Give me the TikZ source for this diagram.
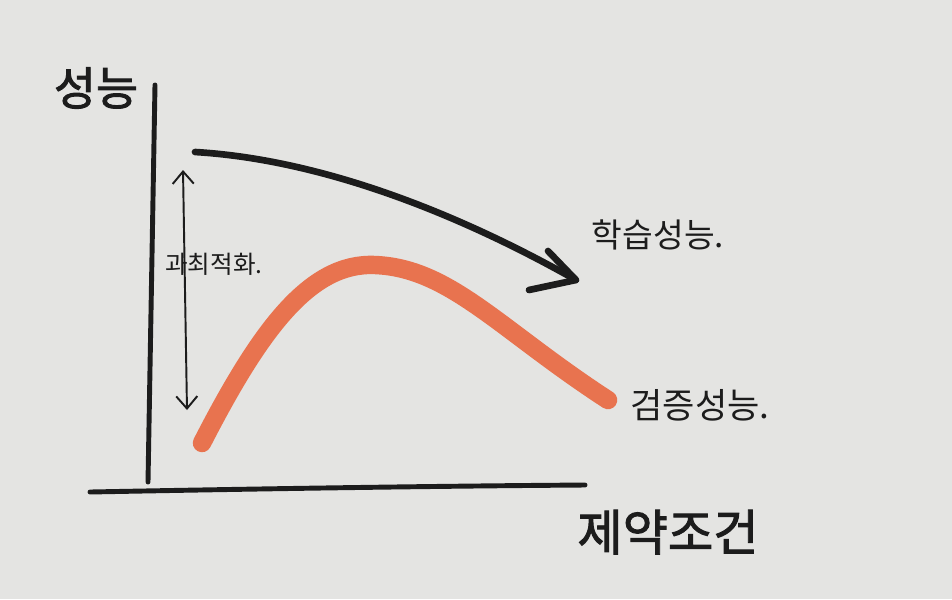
\documentclass[tikz,border=0pt]{standalone}
\usepackage{fontspec}
\newfontfamily\kr{Noto Sans CJK KR}
\newfontfamily\krbold{Noto Sans CJK KR}[FakeBold=2]
\usetikzlibrary{arrows.meta,positioning}
\definecolor{paper}{HTML}{E4E4E2}
\definecolor{ink}{HTML}{1C1C1C}
\definecolor{marker}{HTML}{E8734F}

\begin{document}
\begin{tikzpicture}[x=0.02cm, y=-0.02cm]
	\tikzset{axis/.style={line width=2.8pt, ink, line cap=round},
		label/.style={inner sep=0pt, ink, font=\kr}}
	\fill [paper] (0,0) rectangle (952,599);
	\useasboundingbox (0,0) rectangle (952,599);
	% axes
	\draw [axis] (155,85) -- (148,482);
	\draw [axis] (90,492) .. controls (300,488) and (450,486) .. (585,485);
	% training curve
	\coordinate (tstart) at (195,152);
	\coordinate (tend) at (576,280);
	\draw [line width=3.8pt, ink, line cap=round] (tstart) .. controls (330,160) and (470,220) .. (tend);
	\draw [line width=3.8pt, ink, line cap=round, line join=round] (529,290) -- (tend) -- (548,251);
	% validation curve
	\draw [line width=10.5pt, marker, line cap=round] (202,443) .. controls (260,330) and (310,262) .. (375,265)
		.. controls (450,268) and (500,330) .. (608,400);
	% gap arrow
	\coordinate (gtop) at (183,170);
	\coordinate (gbot) at (187,410);
	\draw [line width=1.1pt, ink, {Straight Barb[length=7pt,width=12pt]}-{Straight Barb[length=7pt,width=12pt]}] (gtop) -- (gbot);
	% labels
	\node [label, font=\krbold\fontsize{26}{26}\selectfont] (perf) at (96,88) {성능};
	\node [label, font=\kr\fontsize{14}{14}\selectfont] (gap) at (214,264) {과최적화.};
	\node [label, font=\kr\fontsize{19}{19}\selectfont] (train) at (658,235) {학습성능.};
	\node [label, font=\kr\fontsize{20}{20}\selectfont] (valid) at (700,405) {검증성능.};
	\node [label, font=\krbold\fontsize{28}{28}\selectfont] (cond) at (668,532) {제약조건};
\end{tikzpicture}
\end{document}
